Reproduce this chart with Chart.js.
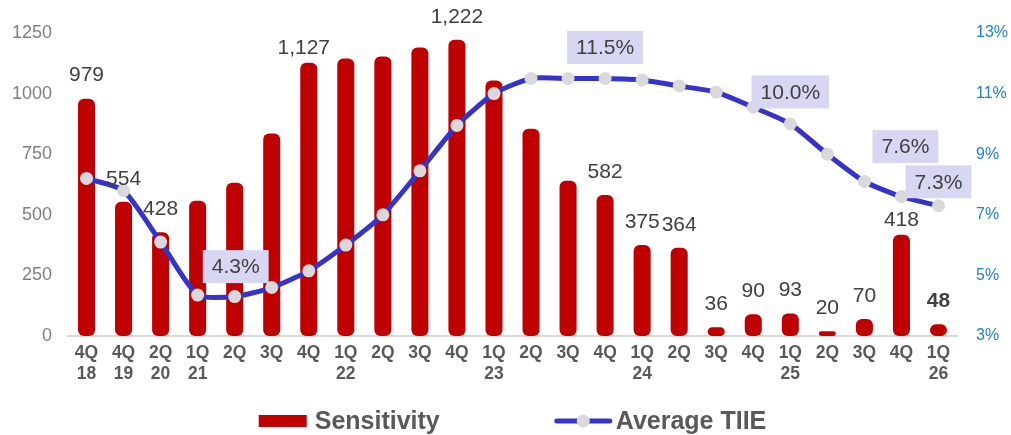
<!DOCTYPE html>
<html>
<head>
<meta charset="utf-8">
<script src="https://cdn.jsdelivr.net/npm/chart.js@4/dist/chart.umd.min.js"></script>
<style>
  html, body { margin: 0; padding: 0; background: #ffffff; }
  #wrap { width: 1011px; height: 435px; }
</style>
</head>
<body>
<div id="wrap"><canvas id="chart" width="1011" height="435"></canvas></div>
<script>
// Quarter / year tick labels
const quarters = ['4Q','4Q','2Q','1Q','2Q','3Q','4Q','1Q','2Q','3Q','4Q','1Q','2Q','3Q','4Q','1Q','2Q','3Q','4Q','1Q','2Q','3Q','4Q','1Q'];
const years    = ['18','19','20','21','','','','22','','','','23','','','','24','','','','25','','','','26'];

// Series values
const sensitivity = [979, 554, 428, 558, 632, 835, 1127, 1145, 1153, 1190, 1222, 1054, 855, 640, 582, 375, 364, 36, 90, 93, 20, 70, 418, 48];
const averageTIIE = [8.2, 7.8, 6.1, 4.35, 4.3, 4.6, 5.15, 6.0, 7.0, 8.45, 9.95, 11.0, 11.5, 11.5, 11.5, 11.45, 11.25, 11.05, 10.55, 10.0, 9.0, 8.1, 7.6, 7.3];

// Which points carry a value label
const sensitivityLabelled = [0, 1, 2, 6, 10, 14, 15, 16, 17, 18, 19, 20, 21, 22, 23];
const tiieLabelled = [4, 14, 19, 22, 23];

// Axis ticks
const leftTicks = [0, 250, 500, 750, 1000, 1250];
const rightTicks = [3, 5, 7, 9, 11, 13];

const categories = quarters.map((q, i) => years[i] ? [q, years[i]] : [q]);

const RED = '#c00000';
const BLUE = '#3434cc';
const DOT = '#d9d9d9';
const TEXT = '#404040';
const AXIS_GREY = '#595959';

// Value labels above bars and boxed labels above line points
const valueLabels = {
  id: 'valueLabels',
  afterDatasetsDraw(chart, args, opts) {
    const ctx = chart.ctx;
    ctx.save();
    ctx.textAlign = 'center';
    ctx.textBaseline = 'middle';
    const barMeta = chart.getDatasetMeta(1);
    sensitivityLabelled.forEach(i => {
      const el = barMeta.data[i];
      const adj = opts.barAdjust[i] || {};
      const dy = adj.dy != null ? adj.dy : 23;
      const dx = adj.dx || 0;
      const bold = i === sensitivity.length - 1;
      ctx.font = (bold ? 'bold ' : '') + '21px "Liberation Sans", Arial, sans-serif';
      ctx.fillStyle = TEXT;
      ctx.fillText(sensitivity[i].toLocaleString('en-US'), el.x + dx, el.y - dy);
    });

    const lineMeta = chart.getDatasetMeta(0);
    ctx.font = '21px "Liberation Sans", Arial, sans-serif';
    tiieLabelled.forEach(i => {
      const el = lineMeta.data[i];
      const adj = opts.lineAdjust[i] || {};
      const dy = adj.dy != null ? adj.dy : 30;
      const dx = adj.dx || 0;
      const txt = averageTIIE[i].toFixed(1) + '%';
      const w = ctx.measureText(txt).width + 18;
      const h = 33;
      const cx = el.x + dx, cy = el.y - dy;
      ctx.fillStyle = '#d7d7f3';
      ctx.fillRect(cx - w / 2, cy - h / 2, w, h);
      ctx.fillStyle = TEXT;
      ctx.fillText(txt, cx, cy + 1);
    });
    ctx.restore();
  }
};

// Legend drawn below the axis labels
const bottomLegend = {
  id: 'bottomLegend',
  afterDraw(chart) {
    const ctx = chart.ctx;
    const area = chart.chartArea;
    ctx.save();
    ctx.font = 'bold 25px "Liberation Sans", Arial, sans-serif';
    ctx.textBaseline = 'middle';
    ctx.textAlign = 'left';
    const t1 = chart.data.datasets[1].label;
    const t2 = chart.data.datasets[0].label;
    const w1 = ctx.measureText(t1).width, w2 = ctx.measureText(t2).width;
    const boxW = 48, lineW = 57, gap = 8, between = 115;
    const total = boxW + gap + w1 + between + lineW + 4 + w2;
    let x = (area.left + area.right) / 2 - total / 2;
    const y = 421;
    ctx.fillStyle = RED;
    ctx.fillRect(x, y - 6, boxW, 12);
    x += boxW + gap;
    ctx.fillStyle = AXIS_GREY;
    ctx.fillText(t1, x, y + 1);
    x += w1 + between;
    ctx.strokeStyle = BLUE;
    ctx.lineWidth = 5;
    ctx.lineCap = 'round';
    ctx.beginPath();
    ctx.moveTo(x + 2, y);
    ctx.lineTo(x + lineW - 2, y);
    ctx.stroke();
    ctx.fillStyle = DOT;
    ctx.beginPath();
    ctx.arc(x + lineW / 2, y, 6.5, 0, Math.PI * 2);
    ctx.fill();
    x += lineW + 4;
    ctx.fillStyle = AXIS_GREY;
    ctx.fillText(t2, x, y + 1);
    ctx.restore();
  }
};

new Chart(document.getElementById('chart'), {
  data: {
    labels: categories,
    datasets: [
      {
        type: 'line',
        label: 'Average TIIE',
        data: averageTIIE,
        yAxisID: 'y1',
        borderColor: BLUE,
        borderWidth: 5,
        tension: 0.2,
        pointRadius: 6.5,
        pointBackgroundColor: DOT,
        pointBorderWidth: 0,
        pointHoverRadius: 6.5,
        order: 0
      },
      {
        type: 'bar',
        label: 'Sensitivity',
        data: sensitivity,
        yAxisID: 'y',
        backgroundColor: RED,
        borderRadius: 6,
        borderSkipped: false,
        categoryPercentage: 1,
        barPercentage: 0.46,
        order: 1
      }
    ]
  },
  options: {
    responsive: false,
    animation: false,
    events: [],
    layout: { padding: { top: 33, left: 0, right: 0, bottom: 0 } },
    plugins: {
      legend: { display: false },
      tooltip: { enabled: false },
      valueLabels: {
        barAdjust: { 6: { dy: 15, dx: -5 }, 22: { dy: 14 } },
        lineAdjust: { 4: { dy: 30, dx: 1 }, 14: { dy: 31 }, 19: { dy: 32 }, 22: { dy: 50, dx: 4 }, 23: { dy: 24 } }
      }
    },
    scales: {
      x: {
        grid: { display: false, drawTicks: false },
        border: { display: true, color: '#d9d9d9', width: 2 },
        ticks: {
          color: AXIS_GREY,
          font: { family: '"Liberation Sans", Arial, sans-serif', size: 17.5, weight: 'bold', lineHeight: 1.22 },
          padding: 6,
          maxRotation: 0,
          autoSkip: false
        },
        afterFit(scale) { scale.height = 99; }
      },
      y: {
        position: 'left',
        min: 0,
        max: 1250,
        afterBuildTicks(scale) { scale.ticks = leftTicks.map(v => ({ value: v })); },
        grid: { display: false, drawTicks: false },
        border: { display: false },
        ticks: {
          color: '#7f7f7f',
          font: { family: '"Liberation Sans", Arial, sans-serif', size: 18 },
          padding: 16,
          callback: v => String(v)
        },
        afterFit(scale) { scale.width = 68; }
      },
      y1: {
        position: 'right',
        min: 3,
        max: 13,
        afterBuildTicks(scale) { scale.ticks = rightTicks.map(v => ({ value: v })); },
        grid: { display: false, drawTicks: false },
        border: { display: false },
        ticks: {
          color: '#1f7fd0',
          font: { family: '"Liberation Sans", Arial, sans-serif', size: 16 },
          padding: 19,
          callback: v => v + '%'
        },
        afterFit(scale) { scale.width = 54; }
      }
    }
  },
  plugins: [valueLabels, bottomLegend]
});
</script>
</body>
</html>
